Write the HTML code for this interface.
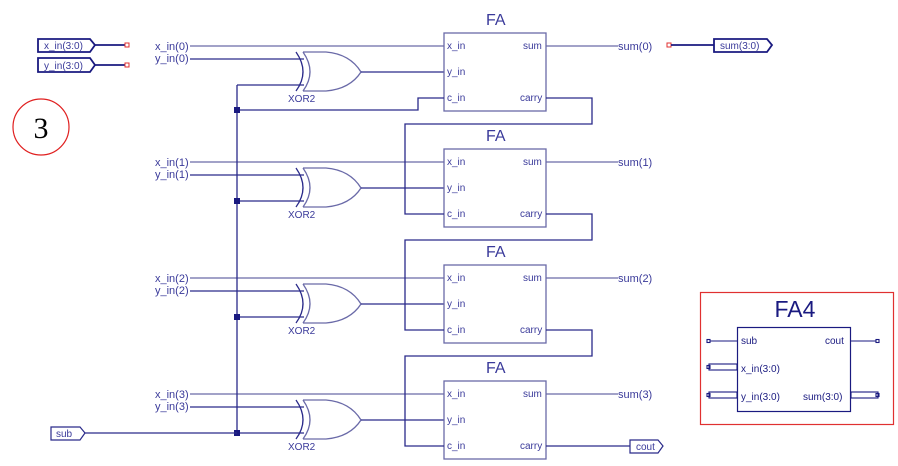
<!DOCTYPE html>
<html><head><meta charset="utf-8"><style>
html,body{margin:0;padding:0;background:#fff;}
svg{display:block;font-family:"Liberation Sans",sans-serif;}
.w{stroke:#2a2a8a;stroke-width:1.3;fill:none;}
.b{stroke:#6a6aa8;stroke-width:1.3;fill:none;}
.t{fill:#3a3a9a;font-size:10px;}
.l{fill:#3a3a9a;font-size:11px;}
</style></head><body>
<svg width="898" height="466" viewBox="0 0 898 466">
<defs>
<g id="row">
  <line class="b" x1="190" y1="46" x2="444" y2="46"/>
  <line class="w" x1="190" y1="59" x2="304" y2="59"/>
  <line class="w" x1="237" y1="85" x2="304" y2="85"/>
  <path class="w" d="M296,52 Q310,72 296,91"/>
  <path class="b" d="M303,52 Q317,72 303,91 M303,52 L326,52 Q350,54 361,72 Q350,89 326,91 L303,91"/>
  <text class="t" x="288" y="102">XOR2</text>
  <line class="w" x1="361" y1="72" x2="444" y2="72"/>
  <rect class="b" x="444" y="33" width="102" height="78"/>
  <text x="486" y="25" fill="#3a3a9a" font-size="16">FA</text>
  <text class="t" x="447" y="49">x_in</text>
  <text class="t" x="447" y="75">y_in</text>
  <text class="t" x="447" y="101">c_in</text>
  <text class="t" x="523" y="49">sum</text>
  <text class="t" x="520" y="101">carry</text>
  <line class="b" x1="546" y1="46" x2="618" y2="46"/>
</g>
</defs>
<path d="M38,39 H90 L95,45 L90,52 H38 Z" fill="none" stroke="#1a1a80" stroke-width="1.8"/>
<text class="t" x="44" y="49">x_in(3:0)</text>
<line x1="95" y1="45" x2="125" y2="45" stroke="#1a1a80" stroke-width="1.8"/>
<rect x="125" y="43" width="4" height="4" fill="none" stroke="#e03030"/>
<path d="M38,58 H90 L95,65 L90,72 H38 Z" fill="none" stroke="#1a1a80" stroke-width="1.8"/>
<text class="t" x="44" y="69">y_in(3:0)</text>
<line x1="95" y1="65" x2="125" y2="65" stroke="#1a1a80" stroke-width="1.8"/>
<rect x="125" y="63" width="4" height="4" fill="none" stroke="#e03030"/>
<circle cx="41" cy="127" r="28" fill="none" stroke="#e02020" stroke-width="1.2"/>
<text x="41" y="138" text-anchor="middle" font-family="Liberation Serif,serif" font-size="30">3</text>

<use href="#row"/>
<use href="#row" y="116"/>
<use href="#row" y="232"/>
<use href="#row" y="348"/>
<text class="l" x="155" y="50">x_in(0)</text><text class="l" x="155" y="62">y_in(0)</text>
<text class="l" x="155" y="166">x_in(1)</text><text class="l" x="155" y="178">y_in(1)</text>
<text class="l" x="155" y="282">x_in(2)</text><text class="l" x="155" y="294">y_in(2)</text>
<text class="l" x="155" y="398">x_in(3)</text><text class="l" x="155" y="410">y_in(3)</text>
<text class="l" x="618" y="50">sum(0)</text>
<text class="l" x="618" y="166">sum(1)</text>
<text class="l" x="618" y="282">sum(2)</text>
<text class="l" x="618" y="398">sum(3)</text>
<line class="w" x1="237" y1="85" x2="237" y2="433"/>
<path class="w" d="M237,110 H418 V98 H444"/>
<path class="w" d="M546,98 H592 V124 H405 V214 H444"/>
<path class="w" d="M546,214 H592 V240 H405 V330 H444"/>
<path class="w" d="M546,330 H592 V356 H405 V446 H444"/>
<rect x="234" y="107" width="6" height="6" fill="#1a1a80"/>
<rect x="234" y="198" width="6" height="6" fill="#1a1a80"/>
<rect x="234" y="314" width="6" height="6" fill="#1a1a80"/>
<rect x="234" y="430" width="6" height="6" fill="#1a1a80"/>
<path d="M51,427 H80 L85,433 L80,440 H51 Z" fill="none" stroke="#2a2a8a" stroke-width="1.2"/>
<text class="t" x="56" y="437">sub</text>
<line class="w" x1="85" y1="433" x2="237" y2="433"/>
<line class="w" x1="546" y1="446" x2="630" y2="446"/>
<path d="M630,440 H658 L663,446 L658,453 H630 Z" fill="none" stroke="#2a2a8a" stroke-width="1.2"/>
<text class="t" x="636" y="450">cout</text>
<rect x="667" y="43" width="4" height="4" fill="none" stroke="#e03030"/>
<line x1="671" y1="45" x2="714" y2="45" stroke="#1a1a80" stroke-width="1.8"/>
<path d="M714,39 H767 L772,45 L767,52 H714 Z" fill="none" stroke="#1a1a80" stroke-width="1.8"/>
<text class="t" x="720" y="49">sum(3:0)</text>
<rect x="700.5" y="292.5" width="193" height="132" fill="none" stroke="#e03030" stroke-width="1.2"/>
<text x="795" y="317" text-anchor="middle" fill="#1a1a80" font-size="23">FA4</text>
<rect x="737.5" y="327.5" width="113" height="84" fill="none" stroke="#1a1a80" stroke-width="1.2"/>
<g stroke="#1a1a80" fill="none" stroke-width="1.1">
<line x1="710" y1="341" x2="737" y2="341"/><rect x="707" y="339.5" width="3" height="3"/>
<line x1="851" y1="341" x2="876" y2="341"/><rect x="876" y="339.5" width="3" height="3"/>
<rect x="709" y="364" width="28" height="6"/><rect x="707" y="365.5" width="3" height="3"/>
<rect x="709" y="392" width="28" height="6"/><rect x="707" y="393.5" width="3" height="3"/>
<rect x="851" y="392" width="27" height="6"/><rect x="876" y="393.5" width="3" height="3"/>
</g>
<g fill="#1a1a80" font-size="10">
<text x="741" y="344">sub</text><text x="825" y="344">cout</text>
<text x="741" y="372">x_in(3:0)</text><text x="741" y="400">y_in(3:0)</text>
<text x="803" y="400">sum(3:0)</text>
</g>
</svg>
</body></html>
